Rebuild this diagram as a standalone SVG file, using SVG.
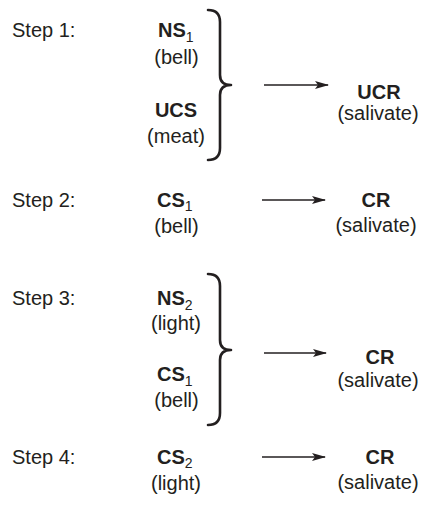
<svg xmlns="http://www.w3.org/2000/svg" width="421" height="506" viewBox="0 0 421 506">
<defs>
<style>
text{font-family:"Liberation Sans",Arial,Helvetica,sans-serif;font-size:20px;fill:#231f20}
.b{font-weight:bold}
.m{text-anchor:middle}
.sub{font-size:14px;font-weight:normal;fill:#231f20}
.brace{fill:none;stroke:#231f20;stroke-width:2.6;stroke-linecap:round;stroke-linejoin:round}
.arr{fill:none;stroke:#231f20;stroke-width:1.5}
</style>
<marker id="ah" viewBox="0 0 14 8" refX="13" refY="4" markerWidth="14" markerHeight="8" markerUnits="userSpaceOnUse" orient="auto">
<path d="M0,0 L14,4 L0,8 L3,4 z" fill="#231f20"/>
</marker>
</defs>
<g id="step1">
<text x="12" y="37">Step 1:</text>
<g id="ns1"><text x="158" y="37" class="b">NS<tspan class="sub" dy="5">1</tspan></text><text x="176.5" y="64" class="m">(bell)</text></g>
<g id="ucs"><text x="176" y="117" class="b m">UCS</text><text x="176" y="143" class="m">(meat)</text></g>
<g id="ucr"><text x="379" y="99" class="b m">UCR</text><text x="378" y="120" class="m">(salivate)</text></g>
</g>
<g id="step2">
<text x="12" y="207">Step 2:</text>
<g id="cs1a"><text x="157" y="207" class="b">CS<tspan class="sub" dy="4">1</tspan></text><text x="176.5" y="233" class="m">(bell)</text></g>
<g id="cr2"><text x="376" y="207" class="b m">CR</text><text x="376" y="232" class="m">(salivate)</text></g>
</g>
<g id="step3">
<text x="12" y="305">Step 3:</text>
<g id="ns2"><text x="157" y="305" class="b">NS<tspan class="sub" dy="5">2</tspan></text><text x="176" y="330" class="m">(light)</text></g>
<g id="cs1b"><text x="157" y="381" class="b">CS<tspan class="sub" dy="5">1</tspan></text><text x="176.5" y="407" class="m">(bell)</text></g>
<g id="cr3"><text x="380" y="364" class="b m">CR</text><text x="378" y="387" class="m">(salivate)</text></g>
</g>
<g id="step4">
<text x="12" y="464">Step 4:</text>
<g id="cs2"><text x="157" y="464" class="b">CS<tspan class="sub" dy="4">2</tspan></text><text x="176" y="490" class="m">(light)</text></g>
<g id="cr4"><text x="380" y="464" class="b m">CR</text><text x="378" y="489" class="m">(salivate)</text></g>
</g>
<g id="connectors">
<path class="brace" d="M208,10 Q220,10 220,22 L220,75 Q220,85 231,85 Q220,85 220,95 L220,148 Q220,160 208,160"/>
<path class="brace" d="M208,274 Q220,274 220,286 L220,340 Q220,350 231,350 Q220,350 220,360 L220,413 Q220,425 208,425"/>
<line class="arr" x1="264" y1="85" x2="328" y2="85" marker-end="url(#ah)"/>
<line class="arr" x1="262" y1="200" x2="325" y2="200" marker-end="url(#ah)"/>
<line class="arr" x1="264" y1="353" x2="326" y2="353" marker-end="url(#ah)"/>
<line class="arr" x1="262" y1="457" x2="325" y2="457" marker-end="url(#ah)"/>
</g>
</svg>
